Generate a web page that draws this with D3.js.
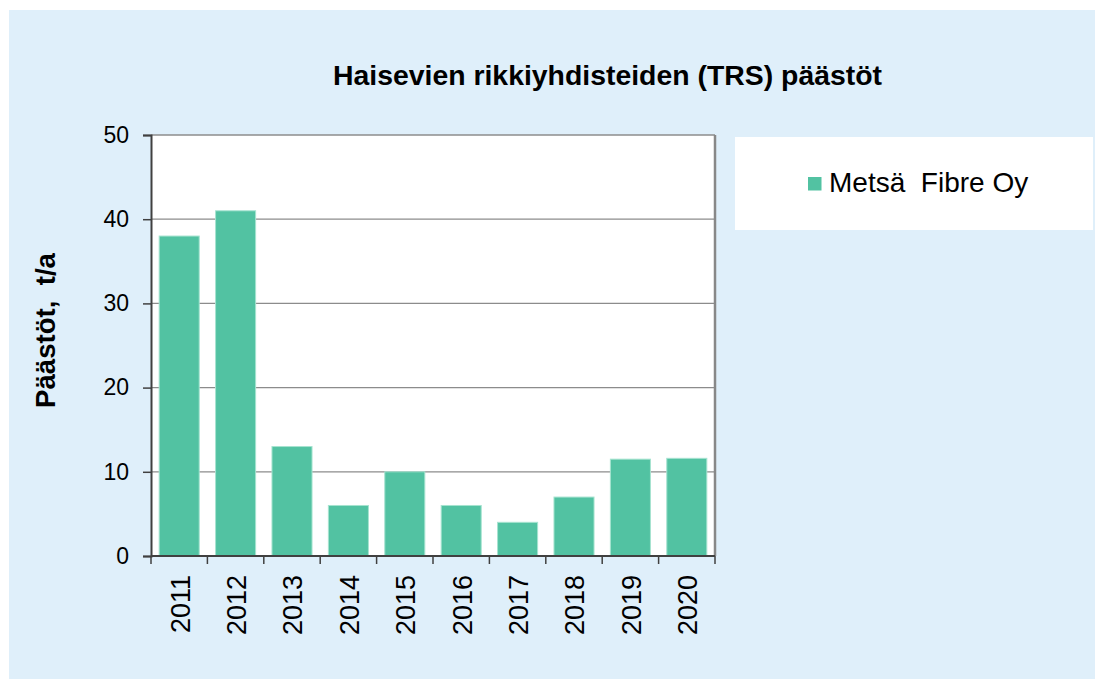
<!DOCTYPE html>
<html><head><meta charset="utf-8">
<script src="https://cdn.jsdelivr.net/npm/d3@7"></script>
<style>body{margin:0;background:#fff}svg{display:block}text{font-family:"Liberation Sans",Arial,sans-serif}</style>
</head><body>
<script>
const years = ["2011","2012","2013","2014","2015","2016","2017","2018","2019","2020"];
const values = [38, 41, 13, 6, 10, 6, 4, 7, 11.5, 11.6];
const yTicks = [0, 10, 20, 30, 40, 50];
const seriesName = "Metsä\u00a0 Fibre Oy";
const title = "Haisevien rikkiyhdisteiden (TRS) päästöt";
const yTitle = "Päästöt,\u00a0 t/a";

const W = 1095, H = 679;
const svg = d3.select("body").append("svg").attr("width", W).attr("height", H);
svg.append("rect").attr("x", 9).attr("y", 10).attr("width", W - 9).attr("height", H - 10).attr("fill", "#dfeffa");

const L = 151, R = 715, T = 135, B = 556;
svg.append("rect").attr("x", L).attr("y", T).attr("width", R - L).attr("height", B - T).attr("fill", "#fff");

const x = d3.scaleBand().domain(years).range([L, R]).paddingInner(0.29).paddingOuter(0.145);
const y = d3.scaleLinear().domain([0, 50]).range([B, T]);

// gridlines
svg.append("g").selectAll("line").data(yTicks.filter(d => d > 0 && d < 50)).join("line")
  .attr("x1", L).attr("x2", R).attr("y1", d => y(d)).attr("y2", d => y(d))
  .attr("stroke", "#8c8c8c").attr("stroke-width", 1.3);

// frame top/right
svg.append("line").attr("x1", L).attr("x2", R).attr("y1", T).attr("y2", T).attr("stroke", "#8c8c8c").attr("stroke-width", 1.5);
svg.append("line").attr("x1", R).attr("x2", R).attr("y1", T).attr("y2", B).attr("stroke", "#888").attr("stroke-width", 2.5);

// bars
svg.append("g").selectAll("rect").data(years).join("rect")
  .attr("x", (d) => x(d)).attr("width", x.bandwidth())
  .attr("y", (d, i) => y(values[i])).attr("height", (d, i) => B - y(values[i]))
  .attr("fill", "#52c2a2").attr("stroke", "#a6e3d0").attr("stroke-width", 1);

// y axis
const yAxis = svg.append("g").attr("transform", `translate(${L},0)`)
  .call(d3.axisLeft(y).tickValues(yTicks).tickSize(8).tickPadding(14).tickFormat(d3.format("d")));
yAxis.select(".domain").attr("stroke", "#404040").attr("stroke-width", 2);
yAxis.selectAll(".tick line").attr("stroke", "#404040").attr("stroke-width", 1.5);
yAxis.selectAll(".tick text").attr("font-size", 23).attr("fill", "#000")
  .style("font-family", '"Liberation Sans",Arial,sans-serif');

// x axis
const bands = years.map(d => x(d) - x.step() * x.paddingInner() / 2);
bands.push(R);
const xAxisG = svg.append("g");
xAxisG.append("line").attr("x1", L).attr("x2", R).attr("y1", B).attr("y2", B).attr("stroke", "#404040").attr("stroke-width", 2);
xAxisG.selectAll("line.tk").data(bands).join("line").attr("class", "tk")
  .attr("x1", d => d).attr("x2", d => d).attr("y1", B).attr("y2", B + 8)
  .attr("stroke", "#404040").attr("stroke-width", 1.5);
xAxisG.selectAll("text").data(years).join("text")
  .attr("transform", d => `translate(${x(d) + x.bandwidth() / 2 + 1},${B + 19}) rotate(-90)`)
  .attr("text-anchor", "end").attr("dy", "0.35em").attr("font-size", 27).attr("fill", "#000")
  .text(d => d);

// titles
svg.append("text").attr("x", 607.5).attr("y", 85).attr("text-anchor", "middle")
  .attr("font-size", 28.4).attr("font-weight", "bold").attr("fill", "#000").text(title);
svg.append("text").attr("transform", "translate(55,330.5) rotate(-90)").attr("text-anchor", "middle")
  .attr("font-size", 27.6).attr("font-weight", "bold").attr("fill", "#000").text(yTitle);

// legend
svg.append("rect").attr("x", 735).attr("y", 137).attr("width", 358).attr("height", 93).attr("fill", "#fff");
svg.append("rect").attr("x", 808).attr("y", 177).attr("width", 13.5).attr("height", 13.5).attr("fill", "#52c2a2");
svg.append("text").attr("x", 829).attr("y", 192).attr("font-size", 28).attr("fill", "#000").text(seriesName);
</script>
</body></html>
